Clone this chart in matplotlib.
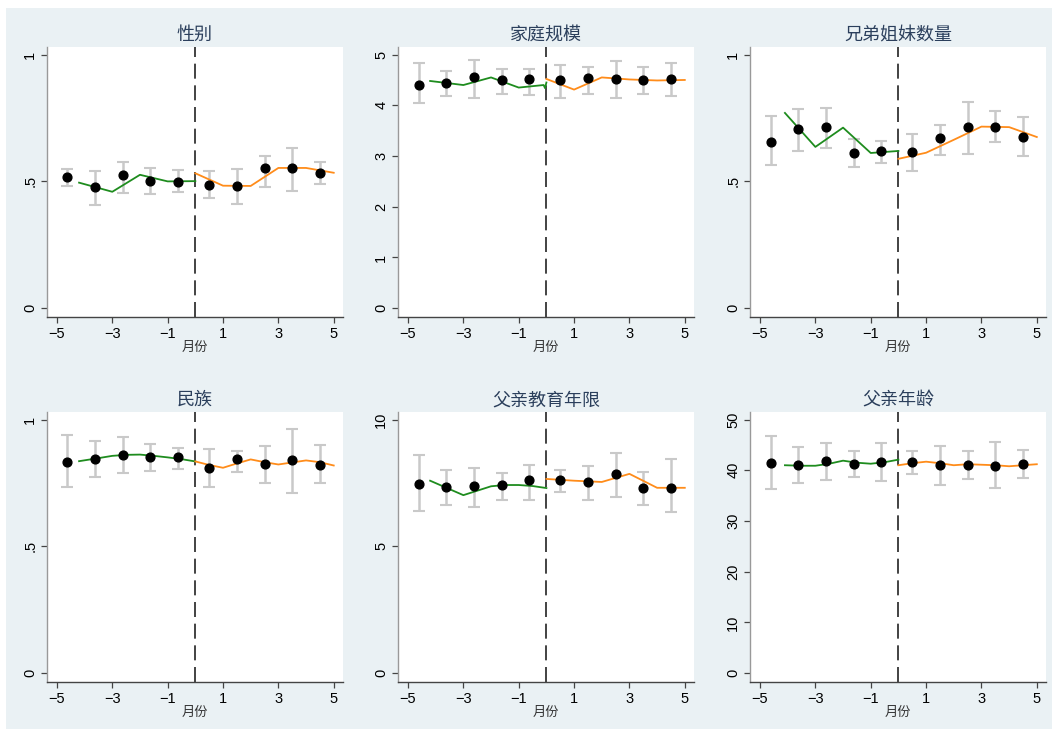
import numpy as np
import matplotlib
matplotlib.use('Agg')
import matplotlib.pyplot as plt
from matplotlib.patches import Rectangle

plt.rcParams['font.family'] = ['Liberation Sans', 'Noto Sans CJK SC', 'DejaVu Sans']

# bin centres for the scatter points
x_left = [-4.62, -3.62, -2.62, -1.62, -0.62]
x_right = [0.5, 1.5, 2.5, 3.5, 4.5]

titles = ['性别', '家庭规模', '兄弟姐妹数量', '民族', '父亲教育年限', '父亲年龄']

# bin means and confidence bounds (10 bins per panel)
means = [
    [0.517, 0.479, 0.525, 0.501, 0.499, 0.484, 0.482, 0.551, 0.553, 0.534],
    [4.41, 4.44, 4.55, 4.49, 4.51, 4.50, 4.54, 4.51, 4.49, 4.51],
    [0.655, 0.707, 0.714, 0.612, 0.618, 0.616, 0.671, 0.714, 0.714, 0.676],
    [0.833, 0.845, 0.862, 0.853, 0.851, 0.811, 0.844, 0.824, 0.839, 0.821],
    [7.47, 7.34, 7.38, 7.42, 7.61, 7.61, 7.54, 7.86, 7.31, 7.30],
    [41.5, 41.0, 41.8, 41.2, 41.7, 41.7, 41.1, 41.1, 40.8, 41.3],
]
ci_hi = [
    [0.549, 0.539, 0.576, 0.554, 0.543, 0.542, 0.547, 0.600, 0.632, 0.578],
    [4.83, 4.68, 4.89, 4.72, 4.72, 4.80, 4.75, 4.87, 4.75, 4.84],
    [0.758, 0.787, 0.789, 0.666, 0.658, 0.686, 0.724, 0.812, 0.776, 0.754],
    [0.938, 0.915, 0.931, 0.903, 0.888, 0.886, 0.878, 0.894, 0.963, 0.901],
    [8.60, 8.00, 8.11, 7.91, 8.20, 8.00, 8.16, 8.68, 7.92, 8.43],
    [46.7, 44.5, 45.4, 43.8, 45.4, 43.8, 44.8, 43.8, 45.6, 44.1],
]
ci_lo = [
    [0.480, 0.405, 0.454, 0.450, 0.457, 0.434, 0.412, 0.479, 0.461, 0.491],
    [4.04, 4.18, 4.14, 4.22, 4.20, 4.14, 4.23, 4.14, 4.22, 4.18],
    [0.564, 0.620, 0.632, 0.558, 0.571, 0.539, 0.605, 0.607, 0.654, 0.600],
    [0.735, 0.772, 0.790, 0.796, 0.807, 0.735, 0.794, 0.751, 0.710, 0.750],
    [6.40, 6.64, 6.57, 6.84, 6.84, 7.13, 6.84, 6.93, 6.64, 6.36],
    [36.3, 37.4, 38.1, 38.6, 37.9, 39.3, 37.2, 38.2, 36.6, 38.4],
]

# fitted curves, before the cutoff (green) and after it (orange)
fit_left_x = [
    [-4.2, -3, -2, -1, 0],
    [-4.2, -3, -2, -1, -0.1, -0.05, 0],
    [-4.1, -3, -2, -1, 0],
    [-4.2, -3.5, -3, -2.5, -2, -1.5, -1, -0.5, 0],
    [-4.2, -3, -2, -1.5, -1, -0.5, 0],
    [-4.1, -3.5, -3, -2.5, -2, -1.5, -1, -0.5, 0],
]
fit_left_y = [
    [0.495, 0.459, 0.526, 0.500, 0.501],
    [4.48, 4.40, 4.55, 4.35, 4.40, 4.34, 4.45],
    [0.770, 0.636, 0.712, 0.612, 0.620],
    [0.836, 0.848, 0.857, 0.861, 0.862, 0.857, 0.851, 0.844, 0.835],
    [7.59, 7.02, 7.37, 7.42, 7.42, 7.38, 7.30],
    [41.0, 40.9, 40.9, 41.3, 41.9, 41.5, 41.3, 41.6, 42.1],
]
fit_right_x = [
    [0, 1, 2, 3, 4, 5],
    [0, 1, 2, 3, 4, 5],
    [0, 1, 2, 3, 4, 5],
    [0, 0.5, 1, 1.5, 2, 2.5, 3, 3.5, 4, 4.5, 5],
    [0, 1, 2, 3, 4, 5],
    [0, 0.5, 1, 1.5, 2, 2.5, 3, 3.5, 4, 4.5, 5],
]
fit_right_y = [
    [0.532, 0.483, 0.482, 0.553, 0.553, 0.534],
    [4.52, 4.31, 4.55, 4.51, 4.49, 4.50],
    [0.589, 0.613, 0.664, 0.716, 0.714, 0.675],
    [0.835, 0.821, 0.810, 0.827, 0.843, 0.832, 0.823, 0.831, 0.839, 0.832, 0.819],
    [7.66, 7.59, 7.54, 7.86, 7.31, 7.31],
    [41.0, 41.4, 41.7, 41.4, 41.0, 41.2, 41.1, 41.0, 40.8, 41.0, 41.2],
]

yticks = [
    [0, 0.5, 1], [0, 1, 2, 3, 4, 5], [0, 0.5, 1],
    [0, 0.5, 1], [0, 5, 10], [0, 10, 20, 30, 40, 50],
]
yticklabels = [
    ['0', '.5', '1'], ['0', '1', '2', '3', '4', '5'], ['0', '.5', '1'],
    ['0', '.5', '1'], ['0', '5', '10'], ['0', '10', '20', '30', '40', '50'],
]
xticks = [-5, -3, -1, 1, 3, 5]

bg = '#eaf1f4'
fig = plt.figure(figsize=(10.53, 7.31), dpi=100, facecolor='white')
# graph region sits inside a thin white margin
fig.patches.append(Rectangle((6 / 1053, 2 / 731), 1046 / 1053, 721 / 731,
                             transform=fig.transFigure, facecolor=bg,
                             edgecolor='none', zorder=-10))

lefts = [0.0446, 0.378, 0.7123]
bottoms = [0.5663, 0.067]
w, h = 0.281, 0.3694

x_all = x_left + x_right
for i in range(6):
    r, c = divmod(i, 3)
    ax = fig.add_axes([lefts[c], bottoms[r], w, h])
    ax.set_facecolor('white')

    top = yticks[i][-1]
    span = top - yticks[i][0]
    ax.set_xlim(-5.36, 5.33)
    ax.set_ylim(-0.035 * span, top + 0.03 * span)

    m = np.array(means[i])
    err = [m - np.array(ci_lo[i]), np.array(ci_hi[i]) - m]
    ax.errorbar(x_all, m, yerr=err, fmt='none', ecolor='#c9c9c9',
                elinewidth=1.8, capsize=4.5, capthick=1.5, zorder=2)
    ax.plot(fit_left_x[i], fit_left_y[i], color='#1e8c1e', lw=1.3, zorder=3)
    ax.plot(fit_right_x[i], fit_right_y[i], color='#ff8c1a', lw=1.3, zorder=3)
    ax.scatter(x_all, m, s=40, color='black', zorder=4)
    ax.axvline(0, color='#222222', lw=1.2, dashes=(9, 4), zorder=1)

    ax.set_xticks(xticks)
    ax.set_yticks(yticks[i])
    ax.set_yticklabels(yticklabels[i], rotation=90, va='center')
    ax.tick_params(axis='both', direction='out', length=4, width=0.9,
                   colors='#444444', labelcolor='black', labelsize=10.5, pad=3)
    for s in ['top', 'right']:
        ax.spines[s].set_visible(False)
    ax.spines['left'].set_color('#999999')
    ax.spines['bottom'].set_color('#444444')
    ax.spines['left'].set_linewidth(1.0)
    ax.spines['bottom'].set_linewidth(1.0)

    ax.set_title(titles[i], fontsize=13, color='#2b3f5c', pad=5)
    ax.set_xlabel('月份', fontsize=9.5, color='#333333', labelpad=1)

fig.savefig('out.png', dpi=100, facecolor='white')
